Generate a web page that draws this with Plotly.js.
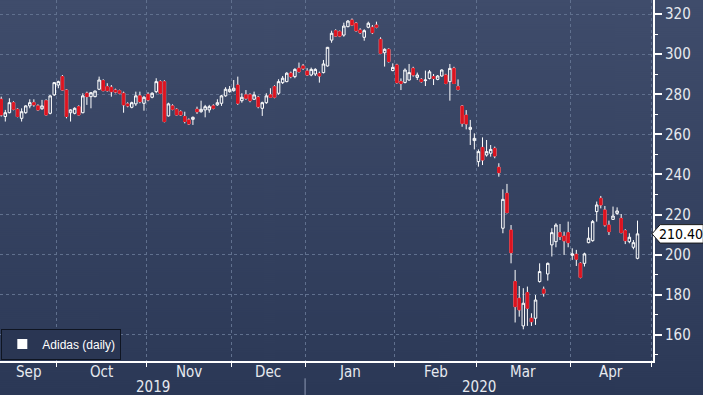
<!DOCTYPE html>
<html><head><meta charset="utf-8">
<script src="https://cdn.plot.ly/plotly-3.0.1.min.js"></script>
<style>html,body{margin:0;padding:0;background:#2c3a58;overflow:hidden;} #chart{width:703px;height:395px;}</style>
</head><body><div id="chart"></div>
<script>
// ---- data ----
const seriesName = 'Adidas (daily)';
const months = ['Sep','Oct','Nov','Dec','Jan','Feb','Mar','Apr'];
const monthSessions = [14,22,21,18,22,20,23,20];
const years = ['2019','2020'];
const yearMonthCount = [4,4];
const lastPriceLabel = '210.40';

const open = [277.5,268.9,270.8,275.8,272.5,268.0,270.8,274.2,275.8,274.2,
272.8,276.8,270.5,279.7,284.6,288.8,282.1,270.8,270.5,273.8,
270.8,280.5,278.8,278.8,282.5,286.8,283.8,283.5,282.1,281.8,
280.5,275.2,273.5,275.2,279.2,275.5,280.0,278.5,281.3,286.3,
286.3,269.2,274.2,272.5,271.3,268.9,267.2,267.5,272.5,271.3,
272.2,272.2,274.2,274.7,275.5,279.2,281.3,281.8,284.6,276.8,
279.7,279.7,277.5,278.5,273.0,275.8,279.7,283.8,280.5,285.8,
286.3,290.5,288.8,293.0,294.1,291.6,289.6,290.1,290.4,290.8,
294.1,307.0,311.7,311.2,309.5,313.7,317.0,315.4,312.0,308.4,
313.4,313.4,314.5,307.4,300.7,302.4,291.8,294.6,286.3,285.9,
287.1,292.9,288.4,287.4,286.8,287.9,288.8,287.4,289.1,289.6,
286.3,292.9,283.8,274.1,269.6,262.5,256.9,246.4,253.5,249.7,
250.6,253.0,243.6,213.2,230.6,212.3,186.6,178.3,164.5,181.1,
168.3,168.3,186.6,182.8,190.4,204.9,206.5,211.0,209.3,211.0,
199.7,200.2,195.7,195.7,206.0,207.0,221.5,228.1,222.3,214.8,
217.6,220.6,218.1,212.0,206.5,203.7,198.2];
const high = [278.8,272.2,278.0,276.5,273.0,273.0,274.5,277.5,277.5,275.0,
277.2,277.5,279.5,286.0,286.8,289.6,282.5,272.5,273.5,274.5,
280.5,281.3,281.1,281.8,288.8,287.5,285.5,284.6,282.8,282.3,
281.3,276.0,276.3,281.3,281.3,279.2,281.0,281.0,288.0,287.0,
287.0,275.8,275.0,273.0,272.0,271.3,268.0,268.9,273.8,276.8,
274.7,274.7,275.0,277.5,279.7,283.5,284.1,287.1,288.8,280.5,
282.1,280.5,281.3,279.2,276.3,280.5,283.0,284.5,287.5,289.1,
291.0,291.3,293.0,295.8,295.1,293.0,293.3,293.0,291.3,297.1,
303.6,311.7,312.4,311.8,315.7,317.0,317.8,316.0,312.9,312.4,
316.2,314.5,316.2,308.4,302.9,302.9,295.4,295.2,287.9,292.9,
295.1,293.7,290.8,288.0,291.8,292.1,290.1,289.6,292.4,290.2,
295.1,293.7,287.4,274.6,272.1,267.2,260.5,252.5,258.5,257.2,
254.7,253.9,245.6,232.6,235.3,214.8,192.4,184.4,183.3,184.1,
170.8,179.9,195.7,184.1,196.1,213.2,215.7,215.3,211.5,216.5,
203.2,202.4,196.2,201.0,213.7,217.3,226.5,229.3,224.3,217.0,
224.0,223.6,220.3,212.7,210.7,207.3,217.0];
const low = [268.9,266.4,270.5,272.0,268.5,266.4,270.3,273.0,273.8,271.8,
272.2,269.5,270.0,279.2,283.0,281.8,268.0,266.4,270.0,269.5,
270.5,274.7,273.0,278.5,282.1,281.5,281.3,278.8,280.5,280.0,
270.8,273.5,273.0,274.2,275.5,271.8,276.5,278.0,280.5,280.0,
266.0,268.9,272.0,269.5,269.2,265.5,264.8,264.7,270.2,270.8,
268.5,270.8,272.5,274.2,274.2,278.8,280.8,281.3,274.7,275.8,
277.2,276.0,277.2,273.0,269.2,275.2,278.5,278.0,279.7,285.1,
286.0,288.0,288.0,290.8,292.1,289.1,289.0,289.1,285.8,290.4,
293.8,305.7,308.7,308.5,308.7,313.4,314.0,311.2,310.0,306.7,
312.9,310.0,312.9,300.1,293.8,295.8,291.5,285.3,282.1,285.4,
286.8,288.8,287.1,285.8,284.1,287.4,284.6,287.0,288.8,285.0,
276.8,285.1,281.8,263.8,262.5,254.7,252.5,243.9,244.7,248.9,
248.9,248.1,238.9,210.7,220.6,195.7,166.2,169.1,162.8,164.5,
164.5,165.0,186.1,179.1,187.1,199.1,203.7,207.3,199.9,203.7,
197.4,194.4,188.2,194.1,205.7,206.5,216.5,223.1,214.0,209.8,
217.3,219.8,210.7,205.3,205.7,202.7,197.7];
const close = [269.7,270.8,275.8,272.5,268.9,271.3,274.2,275.8,274.7,272.2,
274.2,269.7,279.2,285.8,286.3,282.1,268.9,272.2,273.0,269.7,
279.2,278.8,280.8,281.6,287.1,281.8,281.8,281.3,281.1,280.5,
274.7,274.2,275.8,279.2,276.3,278.5,277.2,280.5,286.3,280.5,
266.4,275.2,272.5,269.7,269.7,266.4,265.2,268.5,271.3,272.5,
273.8,273.8,273.0,275.8,279.2,282.5,282.5,283.0,275.5,278.5,
278.0,276.8,279.7,273.8,275.8,279.2,278.5,278.5,286.3,288.0,
290.5,288.8,292.4,291.3,293.0,289.6,292.4,292.4,289.1,295.1,
303.4,310.4,309.0,309.0,314.0,316.5,314.5,311.7,310.7,311.7,
315.4,310.7,313.4,300.4,302.4,296.3,293.4,285.8,285.4,292.1,
290.8,289.6,289.6,286.3,287.1,291.2,287.9,289.1,292.1,285.4,
292.9,285.4,282.4,265.5,265.2,263.5,258.0,251.4,247.2,251.4,
252.5,249.2,240.9,227.6,221.0,201.0,174.1,172.5,175.8,173.3,
166.6,177.4,191.6,180.8,195.7,211.0,214.8,209.0,206.9,206.0,
200.4,197.7,188.7,200.4,208.2,216.5,224.8,224.8,214.8,211.5,
219.3,221.8,211.0,207.0,208.7,206.0,210.4];

// ---- derived from the data ----
const x = open.map((_, i) => i);
const bounds = [];
let acc = 0;
monthSessions.forEach(n => { acc += n; bounds.push(acc - 0.5); });
const xMin = -0.3, xMax = 159.8;
const monthStarts = [xMin].concat(bounds.slice(0, -1));
const monthMid = months.map((m, i) => (monthStarts[i] + bounds[i]) / 2);
const yearEdges = [xMin];
let mi = 0;
yearMonthCount.forEach(c => { mi += c; yearEdges.push(Math.min(bounds[mi - 1], xMax)); });
yearEdges[yearEdges.length - 1] = xMax;
const yearMid = years.map((y, i) => (yearEdges[i] + yearEdges[i + 1]) / 2);

const dIdx = x.filter(i => close[i] < open[i]);
const lastClose = close[close.length - 1];

// background gradient
const cv = document.createElement('canvas');
cv.width = 4; cv.height = 395;
const ctx = cv.getContext('2d');
const g = ctx.createLinearGradient(0, 0, 0, 395);
g.addColorStop(0, '#3f4c6b');
g.addColorStop(0.88, '#2e3b59');
g.addColorStop(1, '#2b3856');
ctx.fillStyle = g; ctx.fillRect(0, 0, 4, 395);
const bgUrl = cv.toDataURL();

const RED = '#dc1420';
const FONT = '"Liberation Sans Narrow", "DejaVu Sans Condensed", sans-serif';

const traces = [
  {
    type: 'candlestick', x: x, open: open, high: high, low: low, close: close,
    increasing: {line: {color: '#ffffff', width: 1}, fillcolor: 'rgba(0,0,0,0)'},
    decreasing: {line: {color: '#ffffff', width: 1}, fillcolor: RED},
    whiskerwidth: 0, showlegend: false, hoverinfo: 'skip', name: seriesName
  },
  {
    type: 'candlestick', x: dIdx,
    open: dIdx.map(i => open[i]), high: dIdx.map(i => open[i]),
    low: dIdx.map(i => close[i]), close: dIdx.map(i => close[i]),
    increasing: {line: {color: RED, width: 1}, fillcolor: RED},
    decreasing: {line: {color: RED, width: 1}, fillcolor: RED},
    whiskerwidth: 0, showlegend: false, hoverinfo: 'skip'
  },
  {
    type: 'scatter', mode: 'markers', x: [null], y: [null], name: seriesName,
    marker: {symbol: 'square', size: 10, color: '#ffffff'}, hoverinfo: 'skip'
  }
];

const annotations = [];
months.forEach((m, i) => annotations.push({
  text: m, x: monthMid[i], xref: 'x', y: -0.031, yref: 'paper',
  showarrow: false, yanchor: 'middle', xanchor: 'center',
  font: {family: FONT, size: 15, color: '#e6e9ef'}
}));
years.forEach((yv, i) => annotations.push({
  text: yv, x: yearMid[i], xref: 'x', y: -0.073, yref: 'paper',
  showarrow: false, yanchor: 'middle', xanchor: 'center',
  font: {family: FONT, size: 15, color: '#e6e9ef'}
}));
annotations.push({
  text: lastPriceLabel, x: 1.0425, xref: 'paper', y: lastClose, yref: 'y',
  showarrow: false, xanchor: 'center', yanchor: 'middle', borderpad: 0,
  font: {family: FONT, size: 14, color: '#000000'}
});

const shapes = [
  {type: 'line', xref: 'x', yref: 'paper', x0: bounds[yearMonthCount[0] - 1], x1: bounds[yearMonthCount[0] - 1],
   y0: -0.048, y1: -0.094, line: {color: '#8c98b3', width: 1}},
  {type: 'path', xref: 'paper', yref: 'y', layer: 'above',
   path: 'M 0.9985,' + lastClose + ' L 1.011,' + (lastClose + 4.6) + ' L 1.077,' + (lastClose + 4.6) +
         ' L 1.077,' + (lastClose - 4.6) + ' L 1.011,' + (lastClose - 4.6) + ' Z',
   fillcolor: '#ffffff', line: {color: '#1a1a1a', width: 1}}
];

const layout = {
  width: 703, height: 395,
  margin: {l: 0, r: 50, t: 0, b: 34, pad: 0},
  paper_bgcolor: '#2c3a58', plot_bgcolor: 'rgba(0,0,0,0)',
  images: [{source: bgUrl, xref: 'paper', yref: 'paper', x: 0, y: 1,
            sizex: 703 / 653, sizey: 395 / 361, xanchor: 'left', yanchor: 'top',
            sizing: 'stretch', layer: 'below'}],
  font: {family: FONT, color: '#e6e9ef'},
  boxgap: 0.12,
  showlegend: true,
  legend: {x: 0.002, y: 0.004, xanchor: 'left', yanchor: 'bottom',
           bgcolor: '#2a3653', bordercolor: '#0f1522', borderwidth: 1,
           font: {family: '"Liberation Sans", sans-serif', size: 12, color: '#ffffff'},
           itemwidth: 30},
  xaxis: {
    type: 'linear', range: [xMin, xMax], fixedrange: true,
    tickmode: 'array', tickvals: bounds, ticktext: bounds.map(() => ''),
    ticks: 'outside', ticklen: 4, tickwidth: 1, tickcolor: '#ffffff',
    showgrid: true, gridcolor: '#60708e', griddash: '3px,3px', gridwidth: 1,
    showline: true, linecolor: '#ffffff', linewidth: 2, zeroline: false,
    rangeslider: {visible: false}
  },
  yaxis: {
    side: 'right', range: [147, 327], fixedrange: true,
    tick0: 0, dtick: 20,
    ticks: 'outside', ticklen: 7, tickwidth: 2, tickcolor: '#ffffff',
    minor: {dtick: 10, tick0: 0, ticks: 'outside', ticklen: 3, tickwidth: 1, tickcolor: '#ffffff', showgrid: false},
    showgrid: true, gridcolor: '#60708e', griddash: '3px,3px', gridwidth: 1,
    showline: true, linecolor: '#ffffff', linewidth: 2, zeroline: false,
    tickfont: {family: FONT, size: 15, color: '#e6e9ef'}
  },
  annotations: annotations,
  shapes: shapes,
  hovermode: false
};

Plotly.newPlot('chart', traces, layout, {displayModeBar: false, staticPlot: true});
</script></body></html>
